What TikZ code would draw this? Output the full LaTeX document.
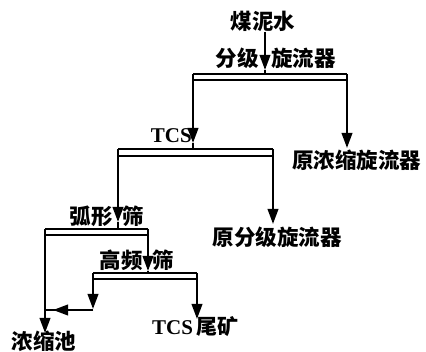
\documentclass[tikz,border=0pt]{standalone}
\usepackage{fontspec}
\setmainfont{Liberation Serif}
\newfontfamily\cjk{Noto Sans CJK SC}
\usetikzlibrary{arrows.meta}
\begin{document}
\begin{tikzpicture}[x=1pt,y=-1pt,
  lbl/.style={inner sep=0pt,font=\fontsize{21.5}{21.5}\selectfont\bfseries\cjk},
  lat/.style={inner sep=0pt,font=\fontsize{21}{21}\selectfont\bfseries},
  flow/.style={line width=2.2pt,-{Triangle[length=15pt,width=10.5pt]}},
  shaft/.style={line width=2.2pt},
  bar/.style={line width=1.4pt}]
\useasboundingbox (0,0) rectangle (426,352);
% texts
\node[lbl] (mns) at (263,21) {煤泥水};
\node[lbl,anchor=east] (fj1) at (259,58) {分级};
\node[lbl,anchor=west] (fj2) at (271,58) {旋流器};
\node[lat,anchor=east] (tcs) at (192,136) {TCS};
\node[lbl,anchor=west] (ynx) at (292,160) {原浓缩旋流器};
\node[lbl,anchor=east] (hx1) at (113,216) {弧形};
\node[lbl,anchor=west] (hx2) at (122,216) {筛};
\node[lbl] (yfj) at (277,237) {原分级旋流器};
\node[lbl,anchor=east] (gp1) at (143,260) {高频};
\node[lbl,anchor=west] (gp2) at (152,260) {筛};
\node[anchor=west,inner sep=0pt] (wk) at (152,327) {\fontsize{21}{21}\selectfont\bfseries TCS\,{\cjk 尾矿}};
\node[lbl] (nsc) at (44,341) {浓缩池};
% coordinates
\coordinate (a1) at (265,32);
\coordinate (a2) at (265,70);
\coordinate (b1tl) at (193,74); \coordinate (b1tr) at (347,74);
\coordinate (b1bl) at (193,80); \coordinate (b1br) at (347,80);
\coordinate (b1m) at (265,74);
\coordinate (t1) at (193,143); \coordinate (t2) at (347,148);
\coordinate (b2tl) at (118,149); \coordinate (b2tr) at (273,149);
\coordinate (b2bl) at (118,156); \coordinate (b2br) at (273,156);
\coordinate (t3) at (118,222); \coordinate (t4) at (273,224);
\coordinate (b3tl) at (45,229); \coordinate (b3tr) at (148,229);
\coordinate (b3bl) at (45,235); \coordinate (b3br) at (148,235);
\coordinate (t5) at (148,271); \coordinate (t6) at (45,333);
\coordinate (b4tl) at (93,273); \coordinate (b4tr) at (197,273);
\coordinate (b4bl) at (93,279); \coordinate (b4br) at (197,279);
\coordinate (t7) at (93,309); \coordinate (h1) at (93,310);
\coordinate (h2) at (53,310); \coordinate (h3) at (45,310);
\coordinate (t8) at (197,319);
% stage 1
\draw[flow] (a1) -- (a2);
\draw[shaft] (a2) -- (b1m);
\draw[bar] (b1tl) -- (b1tr) (b1bl) -- (b1br);
\draw[flow] (b1tl) -- (t1);
\draw[flow] (b1tr) -- (t2);
% stage 2
\draw[shaft] (t1) -- (b2tr -| t1);
\draw[bar] (b2tl) -- (b2tr) (b2bl) -- (b2br);
\draw[flow] (b2tl) -- (t3);
\draw[flow] (b2tr) -- (t4);
% stage 3
\draw[shaft] (t3) -- (b3tl -| t3);
\draw[bar] (b3tl) -- (b3tr) (b3bl) -- (b3br);
\draw[flow] (b3tl) -- (t6);
\draw[flow] (b3tr) -- (t5);
% stage 4
\draw[shaft] (t5) -- (b4tl -| t5);
\draw[bar] (b4tl) -- (b4tr) (b4bl) -- (b4br);
\draw[flow] (b4tl) -- (t7);
\draw[flow] (b4tr) -- (t8);
\draw[shaft] (h1) -- (h3);
\draw[flow] (h1) -- (h2);
\end{tikzpicture}
\end{document}
